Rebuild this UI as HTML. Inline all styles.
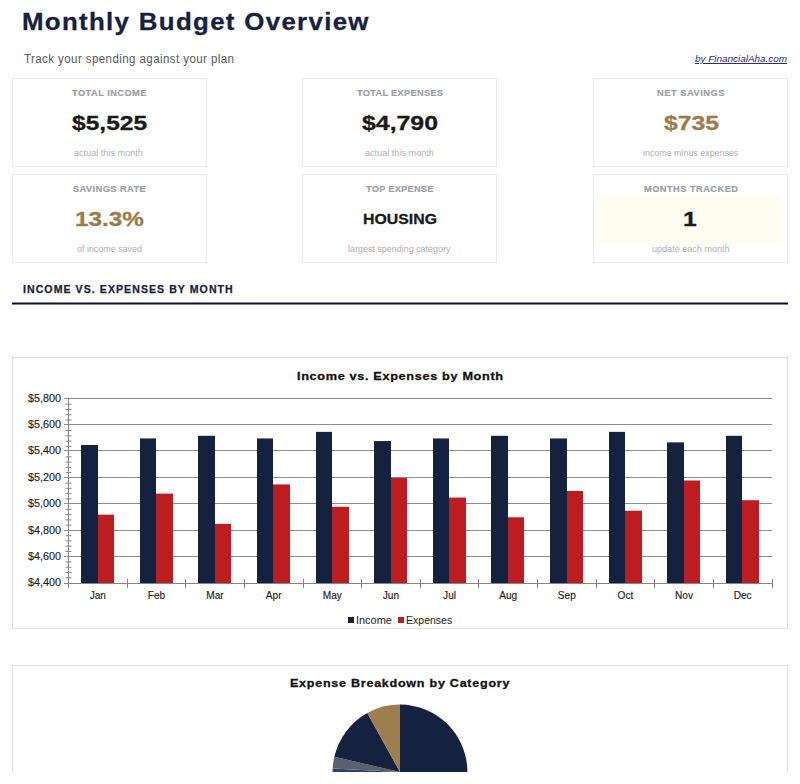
<!DOCTYPE html>
<html><head><meta charset="utf-8"><title>Monthly Budget Overview</title>
<style>
html,body{margin:0;padding:0;background:#fff;width:800px;height:784px;overflow:hidden;position:relative;}
.t{position:absolute;white-space:nowrap;line-height:1;font-family:"Liberation Sans", sans-serif;transform-origin:left center;}
.r{position:absolute;}
</style></head><body>
<div class="t" style="left:22.25px;top:9.83px;font-size:24.42px;font-weight:bold;font-style:normal;color:#15213f;letter-spacing:1.236px;transform:scaleX(1.06);-webkit-text-stroke:0.3px currentColor;">Monthly Budget Overview</div>
<div class="t" style="left:23.74px;top:51.73px;font-size:13.08px;font-weight:normal;font-style:normal;color:#555a60;letter-spacing:0.481px;transform:scaleX(0.88);">Track your spending against your plan</div>
<div class="t" style="left:694.85px;top:54.03px;font-size:9.88px;font-weight:normal;font-style:italic;color:#2b2b82;transform:scaleX(1.0038);text-decoration:underline;">by FinancialAha.com</div>
<div class="r" style="left:12px;top:78px;width:195px;height:89px;border:1px solid #ebebed;box-sizing:border-box;"></div>
<div class="t" style="left:71.91px;top:87.66px;font-size:9.74px;font-weight:bold;font-style:normal;color:#9aa0a7;letter-spacing:0.486px;transform:scaleX(0.95);-webkit-text-stroke:0.2px currentColor;">TOTAL INCOME</div>
<div class="t" style="left:71.69px;top:113.12px;font-size:20.06px;font-weight:bold;font-style:normal;color:#1a1a1a;transform:scaleX(1.2259);-webkit-text-stroke:0.3px currentColor;">$5,525</div>
<div class="t" style="left:74.41px;top:148.57px;font-size:8.78px;font-weight:normal;font-style:normal;color:#b0b0b0;transform:scaleX(1.0393);">actual this month</div>
<div class="r" style="left:302px;top:78px;width:195px;height:89px;border:1px solid #ebebed;box-sizing:border-box;"></div>
<div class="t" style="left:356.71px;top:87.66px;font-size:9.74px;font-weight:bold;font-style:normal;color:#9aa0a7;letter-spacing:0.307px;transform:scaleX(0.95);-webkit-text-stroke:0.2px currentColor;">TOTAL EXPENSES</div>
<div class="t" style="left:362.49px;top:113.12px;font-size:20.06px;font-weight:bold;font-style:normal;color:#1a1a1a;transform:scaleX(1.2393);-webkit-text-stroke:0.3px currentColor;">$4,790</div>
<div class="t" style="left:365.41px;top:148.57px;font-size:8.78px;font-weight:normal;font-style:normal;color:#b0b0b0;transform:scaleX(1.0393);">actual this month</div>
<div class="r" style="left:593px;top:78px;width:195px;height:89px;border:1px solid #ebebed;box-sizing:border-box;"></div>
<div class="t" style="left:656.88px;top:87.66px;font-size:9.74px;font-weight:bold;font-style:normal;color:#9aa0a7;letter-spacing:0.575px;transform:scaleX(0.95);-webkit-text-stroke:0.2px currentColor;">NET SAVINGS</div>
<div class="t" style="left:663.69px;top:113.12px;font-size:20.06px;font-weight:bold;font-style:normal;color:#9b7b4c;transform:scaleX(1.2335);-webkit-text-stroke:0.3px currentColor;">$735</div>
<div class="t" style="left:642.90px;top:148.57px;font-size:8.78px;font-weight:normal;font-style:normal;color:#b0b0b0;transform:scaleX(1.0131);">income minus expenses</div>
<div class="r" style="left:12px;top:174px;width:195px;height:89px;border:1px solid #ebebed;box-sizing:border-box;"></div>
<div class="t" style="left:72.62px;top:183.66px;font-size:9.74px;font-weight:bold;font-style:normal;color:#9aa0a7;letter-spacing:0.452px;transform:scaleX(0.95);-webkit-text-stroke:0.2px currentColor;">SAVINGS RATE</div>
<div class="t" style="left:74.68px;top:208.92px;font-size:20.06px;font-weight:bold;font-style:normal;color:#9b7b4c;transform:scaleX(1.2085);-webkit-text-stroke:0.3px currentColor;">13.3%</div>
<div class="t" style="left:76.52px;top:244.57px;font-size:8.78px;font-weight:normal;font-style:normal;color:#b0b0b0;transform:scaleX(1.0176);">of income saved</div>
<div class="r" style="left:302px;top:174px;width:195px;height:89px;border:1px solid #ebebed;box-sizing:border-box;"></div>
<div class="t" style="left:365.91px;top:183.66px;font-size:9.74px;font-weight:bold;font-style:normal;color:#9aa0a7;letter-spacing:0.263px;transform:scaleX(0.95);-webkit-text-stroke:0.2px currentColor;">TOP EXPENSE</div>
<div class="t" style="left:362.93px;top:211.53px;font-size:14.97px;font-weight:bold;font-style:normal;color:#1a1a1a;transform:scaleX(1.0599);-webkit-text-stroke:0.3px currentColor;">HOUSING</div>
<div class="t" style="left:348.40px;top:244.57px;font-size:8.78px;font-weight:normal;font-style:normal;color:#b0b0b0;transform:scaleX(1.0207);">largest spending category</div>
<div class="r" style="left:596px;top:195px;width:186px;height:47px;background:#fffdf0;"></div>
<div class="r" style="left:593px;top:174px;width:195px;height:89px;border:1px solid #ebebed;box-sizing:border-box;"></div>
<div class="t" style="left:643.88px;top:183.66px;font-size:9.74px;font-weight:bold;font-style:normal;color:#9aa0a7;letter-spacing:0.496px;transform:scaleX(0.95);-webkit-text-stroke:0.2px currentColor;">MONTHS TRACKED</div>
<div class="t" style="left:683.45px;top:208.92px;font-size:20.06px;font-weight:bold;font-style:normal;color:#1a1a1a;transform:scaleX(1.2330);-webkit-text-stroke:0.3px currentColor;">1</div>
<div class="t" style="left:651.91px;top:244.57px;font-size:8.78px;font-weight:normal;font-style:normal;color:#b0b0b0;transform:scaleX(1.0334);">update each month</div>
<div class="t" style="left:23.29px;top:283.88px;font-size:11.48px;font-weight:bold;font-style:normal;color:#15213f;letter-spacing:1.157px;transform:scaleX(0.92);-webkit-text-stroke:0.25px currentColor;">INCOME VS. EXPENSES BY MONTH</div>
<svg class="r" style="left:0;top:290px" width="800" height="20"><line x1="12" y1="13.5" x2="788" y2="13.5" stroke="#0e1030" stroke-width="2"/></svg>
<div class="r" style="left:12px;top:357px;width:776px;height:272px;border:1px solid #e0e0e0;box-sizing:border-box;"></div>
<div class="t" style="left:296.54px;top:370.03px;font-size:11.77px;font-weight:bold;font-style:normal;color:#111;letter-spacing:0.602px;transform:scaleX(1.08);-webkit-text-stroke:0.3px currentColor;">Income vs. Expenses by Month</div>
<svg class="r" style="left:0;top:0" width="800" height="784"><line x1="64.0" y1="556.5" x2="772.0" y2="556.5" stroke="#8e8e8e" stroke-width="1.2"/><line x1="64.0" y1="530.5" x2="772.0" y2="530.5" stroke="#8e8e8e" stroke-width="1.2"/><line x1="64.0" y1="503.5" x2="772.0" y2="503.5" stroke="#8e8e8e" stroke-width="1.2"/><line x1="64.0" y1="477.5" x2="772.0" y2="477.5" stroke="#8e8e8e" stroke-width="1.2"/><line x1="64.0" y1="450.5" x2="772.0" y2="450.5" stroke="#8e8e8e" stroke-width="1.2"/><line x1="64.0" y1="424.5" x2="772.0" y2="424.5" stroke="#8e8e8e" stroke-width="1.2"/><line x1="64.0" y1="398.5" x2="772.0" y2="398.5" stroke="#8e8e8e" stroke-width="1.2"/><line x1="65.5" y1="577.74" x2="71.5" y2="577.74" stroke="#858585" stroke-width="1"/><line x1="65.5" y1="572.49" x2="71.5" y2="572.49" stroke="#858585" stroke-width="1"/><line x1="65.5" y1="567.23" x2="71.5" y2="567.23" stroke="#858585" stroke-width="1"/><line x1="65.5" y1="561.97" x2="71.5" y2="561.97" stroke="#858585" stroke-width="1"/><line x1="65.5" y1="551.46" x2="71.5" y2="551.46" stroke="#858585" stroke-width="1"/><line x1="65.5" y1="546.20" x2="71.5" y2="546.20" stroke="#858585" stroke-width="1"/><line x1="65.5" y1="540.94" x2="71.5" y2="540.94" stroke="#858585" stroke-width="1"/><line x1="65.5" y1="535.69" x2="71.5" y2="535.69" stroke="#858585" stroke-width="1"/><line x1="65.5" y1="525.17" x2="71.5" y2="525.17" stroke="#858585" stroke-width="1"/><line x1="65.5" y1="519.91" x2="71.5" y2="519.91" stroke="#858585" stroke-width="1"/><line x1="65.5" y1="514.66" x2="71.5" y2="514.66" stroke="#858585" stroke-width="1"/><line x1="65.5" y1="509.40" x2="71.5" y2="509.40" stroke="#858585" stroke-width="1"/><line x1="65.5" y1="498.89" x2="71.5" y2="498.89" stroke="#858585" stroke-width="1"/><line x1="65.5" y1="493.63" x2="71.5" y2="493.63" stroke="#858585" stroke-width="1"/><line x1="65.5" y1="488.37" x2="71.5" y2="488.37" stroke="#858585" stroke-width="1"/><line x1="65.5" y1="483.11" x2="71.5" y2="483.11" stroke="#858585" stroke-width="1"/><line x1="65.5" y1="472.60" x2="71.5" y2="472.60" stroke="#858585" stroke-width="1"/><line x1="65.5" y1="467.34" x2="71.5" y2="467.34" stroke="#858585" stroke-width="1"/><line x1="65.5" y1="462.09" x2="71.5" y2="462.09" stroke="#858585" stroke-width="1"/><line x1="65.5" y1="456.83" x2="71.5" y2="456.83" stroke="#858585" stroke-width="1"/><line x1="65.5" y1="446.31" x2="71.5" y2="446.31" stroke="#858585" stroke-width="1"/><line x1="65.5" y1="441.06" x2="71.5" y2="441.06" stroke="#858585" stroke-width="1"/><line x1="65.5" y1="435.80" x2="71.5" y2="435.80" stroke="#858585" stroke-width="1"/><line x1="65.5" y1="430.54" x2="71.5" y2="430.54" stroke="#858585" stroke-width="1"/><line x1="65.5" y1="420.03" x2="71.5" y2="420.03" stroke="#858585" stroke-width="1"/><line x1="65.5" y1="414.77" x2="71.5" y2="414.77" stroke="#858585" stroke-width="1"/><line x1="65.5" y1="409.51" x2="71.5" y2="409.51" stroke="#858585" stroke-width="1"/><line x1="65.5" y1="404.26" x2="71.5" y2="404.26" stroke="#858585" stroke-width="1"/><line x1="68.5" y1="398" x2="68.5" y2="588" stroke="#858585" stroke-width="1"/><line x1="127.5" y1="579" x2="127.5" y2="588" stroke="#858585" stroke-width="1"/><line x1="185.5" y1="579" x2="185.5" y2="588" stroke="#858585" stroke-width="1"/><line x1="244.5" y1="579" x2="244.5" y2="588" stroke="#858585" stroke-width="1"/><line x1="303.5" y1="579" x2="303.5" y2="588" stroke="#858585" stroke-width="1"/><line x1="361.5" y1="579" x2="361.5" y2="588" stroke="#858585" stroke-width="1"/><line x1="420.5" y1="579" x2="420.5" y2="588" stroke="#858585" stroke-width="1"/><line x1="478.5" y1="579" x2="478.5" y2="588" stroke="#858585" stroke-width="1"/><line x1="537.5" y1="579" x2="537.5" y2="588" stroke="#858585" stroke-width="1"/><line x1="596.5" y1="579" x2="596.5" y2="588" stroke="#858585" stroke-width="1"/><line x1="654.5" y1="579" x2="654.5" y2="588" stroke="#858585" stroke-width="1"/><line x1="713.5" y1="579" x2="713.5" y2="588" stroke="#858585" stroke-width="1"/><line x1="772.5" y1="579" x2="772.5" y2="588" stroke="#858585" stroke-width="1"/><rect x="81" y="445.00" width="17" height="138.50" fill="#15223f"/><rect x="98" y="514.66" width="16" height="68.84" fill="#bc1d21"/><rect x="140" y="438.43" width="16" height="145.07" fill="#15223f"/><rect x="156" y="493.63" width="17" height="89.87" fill="#bc1d21"/><rect x="198" y="435.80" width="17" height="147.70" fill="#15223f"/><rect x="215" y="523.86" width="16" height="59.64" fill="#bc1d21"/><rect x="257" y="438.43" width="16" height="145.07" fill="#15223f"/><rect x="273" y="484.43" width="17" height="99.07" fill="#bc1d21"/><rect x="316" y="431.86" width="16" height="151.64" fill="#15223f"/><rect x="332" y="506.77" width="17" height="76.73" fill="#bc1d21"/><rect x="374" y="441.06" width="17" height="142.44" fill="#15223f"/><rect x="391" y="477.86" width="16" height="105.64" fill="#bc1d21"/><rect x="433" y="438.43" width="16" height="145.07" fill="#15223f"/><rect x="449" y="497.57" width="17" height="85.93" fill="#bc1d21"/><rect x="491" y="435.80" width="17" height="147.70" fill="#15223f"/><rect x="508" y="517.29" width="16" height="66.21" fill="#bc1d21"/><rect x="550" y="438.43" width="17" height="145.07" fill="#15223f"/><rect x="567" y="491.00" width="16" height="92.50" fill="#bc1d21"/><rect x="609" y="431.86" width="16" height="151.64" fill="#15223f"/><rect x="625" y="510.71" width="17" height="72.79" fill="#bc1d21"/><rect x="667" y="442.37" width="17" height="141.13" fill="#15223f"/><rect x="684" y="480.49" width="16" height="103.01" fill="#bc1d21"/><rect x="726" y="435.80" width="16" height="147.70" fill="#15223f"/><rect x="742" y="500.20" width="17" height="83.30" fill="#bc1d21"/><line x1="64.0" y1="583.5" x2="772.0" y2="583.5" stroke="#858585" stroke-width="1"/><clipPath id="pc"><rect x="0" y="0" width="800" height="772.0"/></clipPath><g clip-path="url(#pc)"><path d="M400,772.0 L400.00,704.60 A67.4,67.4 0 0 1 400.00,839.40 Z" fill="#15223f"/><path d="M400,772.0 L332.60,772.00 A67.4,67.4 0 0 1 332.69,768.47 Z" fill="#2d4470"/><path d="M400,772.0 L332.69,768.47 A67.4,67.4 0 0 1 334.33,756.84 Z" fill="#5a606e"/><path d="M400,772.0 L334.33,756.84 A67.4,67.4 0 0 1 367.32,713.05 Z" fill="#15223f"/><path d="M400,772.0 L367.32,713.05 A67.4,67.4 0 0 1 400.00,704.60 Z" fill="#9e7d4e"/></g></svg>
<div class="t" style="left:28.09px;top:577.30px;font-size:10.76px;font-weight:normal;font-style:normal;color:#1e1e1e;transform:scaleX(1.0069);-webkit-text-stroke:0.15px currentColor;">$4,400</div>
<div class="t" style="left:28.09px;top:551.30px;font-size:10.76px;font-weight:normal;font-style:normal;color:#1e1e1e;transform:scaleX(1.0069);-webkit-text-stroke:0.15px currentColor;">$4,600</div>
<div class="t" style="left:28.09px;top:525.30px;font-size:10.76px;font-weight:normal;font-style:normal;color:#1e1e1e;transform:scaleX(1.0069);-webkit-text-stroke:0.15px currentColor;">$4,800</div>
<div class="t" style="left:28.09px;top:498.30px;font-size:10.76px;font-weight:normal;font-style:normal;color:#1e1e1e;transform:scaleX(1.0069);-webkit-text-stroke:0.15px currentColor;">$5,000</div>
<div class="t" style="left:28.09px;top:472.30px;font-size:10.76px;font-weight:normal;font-style:normal;color:#1e1e1e;transform:scaleX(1.0069);-webkit-text-stroke:0.15px currentColor;">$5,200</div>
<div class="t" style="left:28.09px;top:445.30px;font-size:10.76px;font-weight:normal;font-style:normal;color:#1e1e1e;transform:scaleX(1.0069);-webkit-text-stroke:0.15px currentColor;">$5,400</div>
<div class="t" style="left:28.09px;top:419.30px;font-size:10.76px;font-weight:normal;font-style:normal;color:#1e1e1e;transform:scaleX(1.0069);-webkit-text-stroke:0.15px currentColor;">$5,600</div>
<div class="t" style="left:28.09px;top:393.30px;font-size:10.76px;font-weight:normal;font-style:normal;color:#1e1e1e;transform:scaleX(1.0069);-webkit-text-stroke:0.15px currentColor;">$5,800</div>
<div class="t" style="left:67.81px;width:60px;text-align:center;top:590.65px;font-size:10.1px;color:#1e1e1e;-webkit-text-stroke:0.15px currentColor">Jan</div>
<div class="t" style="left:126.44px;width:60px;text-align:center;top:590.65px;font-size:10.1px;color:#1e1e1e;-webkit-text-stroke:0.15px currentColor">Feb</div>
<div class="t" style="left:185.06px;width:60px;text-align:center;top:590.65px;font-size:10.1px;color:#1e1e1e;-webkit-text-stroke:0.15px currentColor">Mar</div>
<div class="t" style="left:243.69px;width:60px;text-align:center;top:590.65px;font-size:10.1px;color:#1e1e1e;-webkit-text-stroke:0.15px currentColor">Apr</div>
<div class="t" style="left:302.31px;width:60px;text-align:center;top:590.65px;font-size:10.1px;color:#1e1e1e;-webkit-text-stroke:0.15px currentColor">May</div>
<div class="t" style="left:360.94px;width:60px;text-align:center;top:590.65px;font-size:10.1px;color:#1e1e1e;-webkit-text-stroke:0.15px currentColor">Jun</div>
<div class="t" style="left:419.56px;width:60px;text-align:center;top:590.65px;font-size:10.1px;color:#1e1e1e;-webkit-text-stroke:0.15px currentColor">Jul</div>
<div class="t" style="left:478.19px;width:60px;text-align:center;top:590.65px;font-size:10.1px;color:#1e1e1e;-webkit-text-stroke:0.15px currentColor">Aug</div>
<div class="t" style="left:536.81px;width:60px;text-align:center;top:590.65px;font-size:10.1px;color:#1e1e1e;-webkit-text-stroke:0.15px currentColor">Sep</div>
<div class="t" style="left:595.44px;width:60px;text-align:center;top:590.65px;font-size:10.1px;color:#1e1e1e;-webkit-text-stroke:0.15px currentColor">Oct</div>
<div class="t" style="left:654.06px;width:60px;text-align:center;top:590.65px;font-size:10.1px;color:#1e1e1e;-webkit-text-stroke:0.15px currentColor">Nov</div>
<div class="t" style="left:712.69px;width:60px;text-align:center;top:590.65px;font-size:10.1px;color:#1e1e1e;-webkit-text-stroke:0.15px currentColor">Dec</div>
<div class="r" style="left:348px;top:617px;width:6px;height:6px;background:#15223f;"></div>
<div class="t" style="left:355.59px;top:614.50px;font-size:10.76px;font-weight:normal;font-style:normal;color:#222;transform:scaleX(1.0177);">Income</div>
<div class="r" style="left:398px;top:617px;width:6px;height:6px;background:#bc1d21;"></div>
<div class="t" style="left:406.13px;top:614.50px;font-size:10.76px;font-weight:normal;font-style:normal;color:#222;transform:scaleX(0.9787);">Expenses</div>
<div class="r" style="left:12px;top:665px;width:776px;height:107px;border:1px solid #e0e0e0;border-bottom:none;box-sizing:border-box;"></div>
<div class="t" style="left:290.15px;top:677.16px;font-size:11.63px;font-weight:bold;font-style:normal;color:#111;letter-spacing:0.679px;transform:scaleX(1.08);-webkit-text-stroke:0.3px currentColor;">Expense Breakdown by Category</div>
</body></html>
